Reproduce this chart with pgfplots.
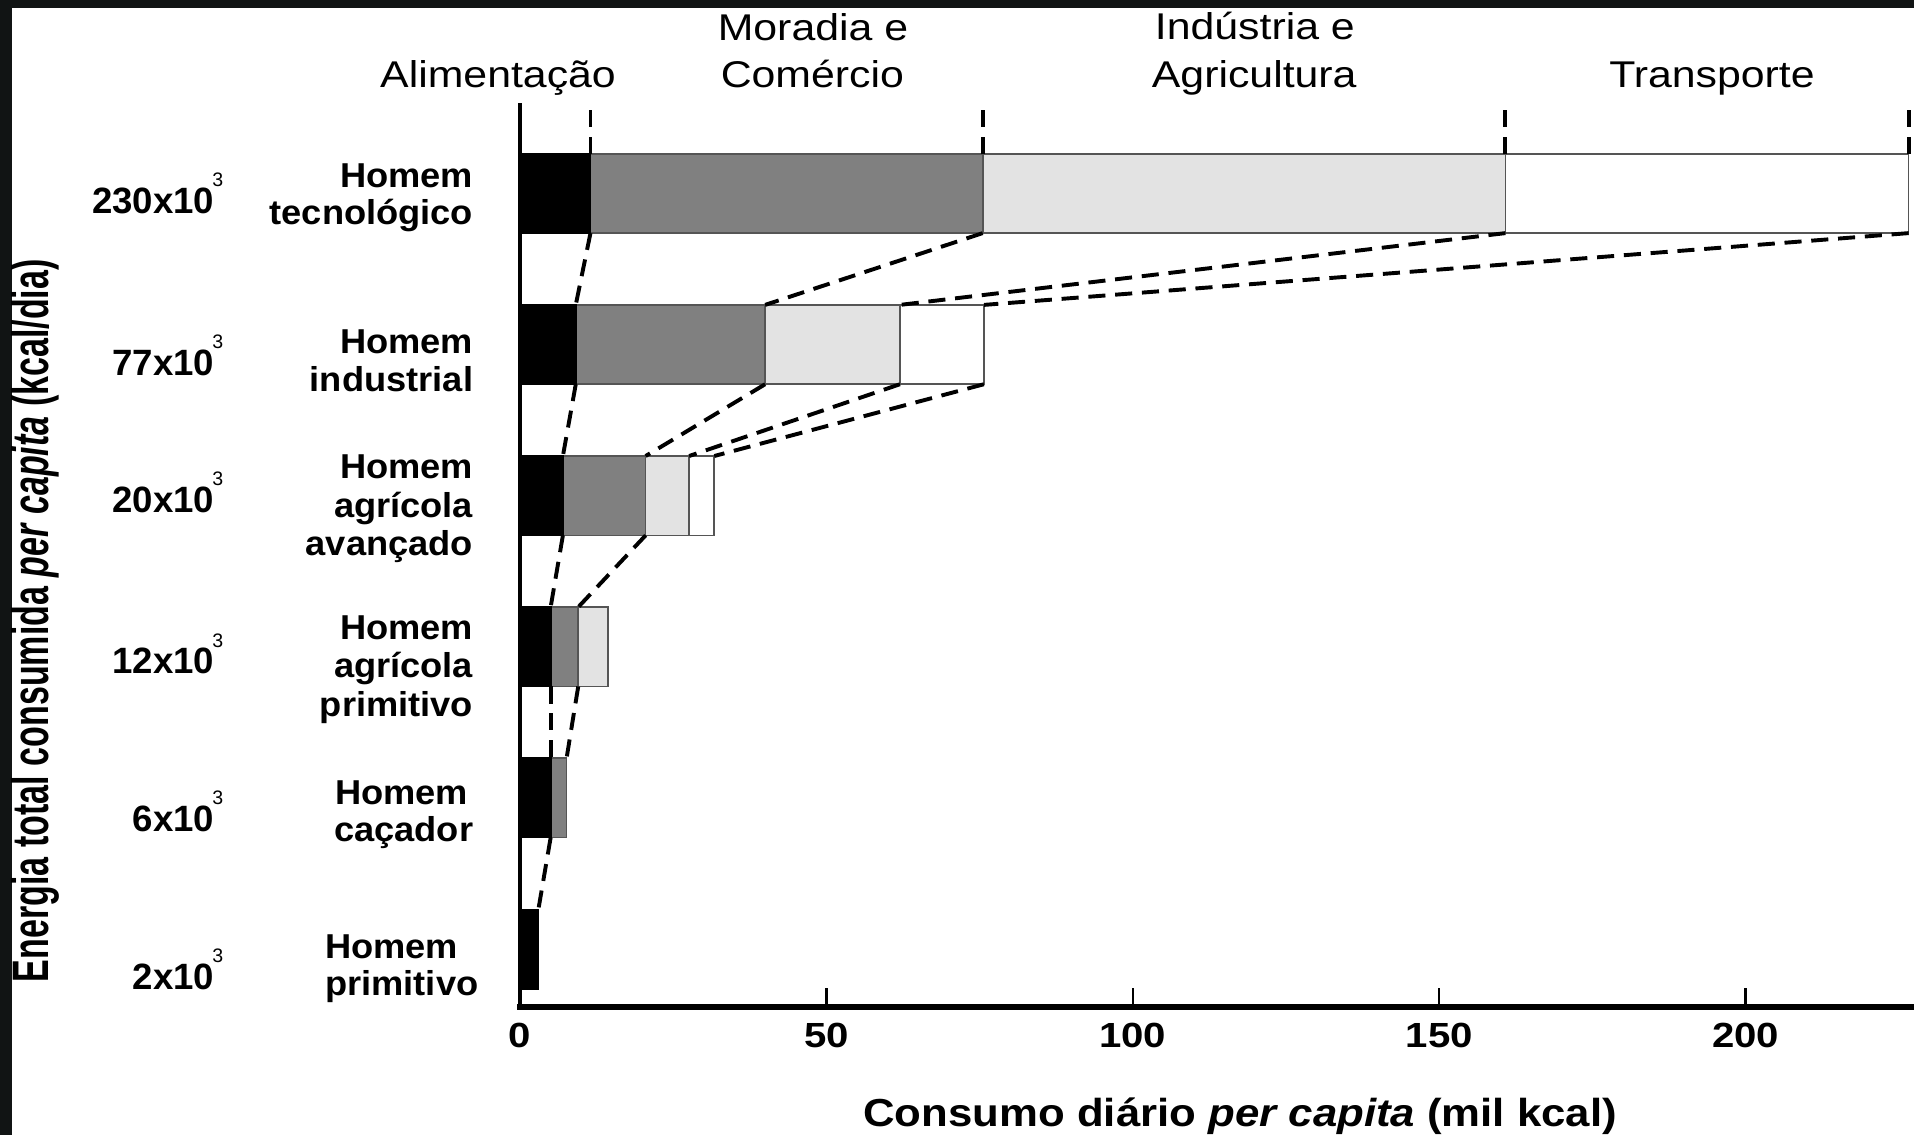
\documentclass[border=0pt]{standalone}
\usepackage{fontspec}
\setmainfont{Liberation Sans}
\usepackage{pgfplots}
\pgfplotsset{compat=1.18}
\newfontfamily\hdrfont[FakeStretch=1.15]{Liberation Sans}
\newfontfamily\catfont[FakeStretch=1.05]{Liberation Sans}
\newfontfamily\tickfont[FakeStretch=1.15]{Liberation Sans}
\newfontfamily\xlabfont[FakeStretch=1.12]{Liberation Sans}
\newfontfamily\ylabfont[FakeStretch=0.664]{Liberation Sans}
\definecolor{darkbar}{HTML}{808080}
\definecolor{lightbar}{HTML}{E3E3E3}
\definecolor{edge}{HTML}{555555}
\definecolor{frame}{HTML}{111414}
\begin{document}
\begin{tikzpicture}[x=1pt,y=1pt]
\useasboundingbox (0,0) rectangle (784,465);
\fill[white] (0,0) rectangle (784,465);
\fill[frame] (0,0) rectangle (4.9,465);
\fill[frame] (0,461.75) rectangle (784,465);
\begin{axis}[
  at={(213pt,52.5pt)}, anchor=south west,
  scale only axis, width=569.8pt, height=369.5pt,
  xmin=0, xmax=227, ymin=-0.3837, ymax=5.5856,
  clip=false,
  axis x line=bottom, axis y line=left,
  x axis line style={-, line width=2.5pt, line cap=rect},
  y axis line style={-, line width=2pt, line cap=rect},
  ytick=\empty,
  xtick={0,50,100,150,200},
  tick align=inside,
  major tick length=8pt,
  xtick style={black, line width=1pt},
  /pgf/number format/assume math mode=true,
  xticklabel style={font=\tickfont\bfseries\fontsize{14.3}{16}\selectfont, yshift=-3.2pt},
  mybar/.style={xbar, bar width=32.5pt, bar shift=0pt, line width=0.7pt},
  conn/.style={black, line width=1.6pt, dash pattern=on 7pt off 4pt},
]
% cumulative segment ends (Alimentacao | Moradia | Industria | Transporte)
\addplot[mybar, fill=white, draw=edge] coordinates {(31.7,3) (75.7,4) (226.6,5)};
\addplot[mybar, fill=lightbar, draw=edge] coordinates {(14.4,2) (27.6,3) (62.0,4) (160.8,5)};
\addplot[mybar, fill=darkbar, draw=edge] coordinates {(7.6,1) (9.5,2) (20.5,3) (40.0,4) (75.5,5)};
\addplot[mybar, fill=black, draw=black] coordinates {(3.0,0) (5.0,1) (5.0,2) (7.0,3) (9.1,4) (11.5,5)};
% connectors
\addplot[conn] coordinates {(11.5,5.2625) (11.5,5.6)};
\addplot[conn] coordinates {(75.5,5.2625) (75.5,5.6)};
\addplot[conn] coordinates {(160.8,5.2625) (160.8,5.6)};
\addplot[conn] coordinates {(226.6,5.2625) (226.6,5.6)};
\addplot[conn] coordinates {(11.5,4.7375) (9.1,4.2625)};
\addplot[conn] coordinates {(75.5,4.7375) (40.0,4.2625)};
\addplot[conn] coordinates {(160.8,4.7375) (62.0,4.2625)};
\addplot[conn] coordinates {(226.6,4.7375) (75.7,4.2625)};
\addplot[conn] coordinates {(9.1,3.7375) (7.0,3.2625)};
\addplot[conn] coordinates {(40.0,3.7375) (20.5,3.2625)};
\addplot[conn] coordinates {(62.0,3.7375) (27.6,3.2625)};
\addplot[conn] coordinates {(75.7,3.7375) (31.7,3.2625)};
\addplot[conn] coordinates {(7.0,2.7375) (5.0,2.2625)};
\addplot[conn] coordinates {(20.5,2.7375) (9.5,2.2625)};
\addplot[conn] coordinates {(5.0,1.7375) (5.0,1.2625)};
\addplot[conn] coordinates {(9.5,1.7375) (7.6,1.2625)};
\addplot[conn] coordinates {(5.0,0.7375) (3.0,0.2625)};
\end{axis}
% header labels
\begin{scope}[every node/.style={inner sep=0pt, anchor=base, font=\hdrfont\fontsize{15.25}{18}\selectfont}]
\node at (204,429.1) {Alimentação};
\node at (333,448.35) {Moradia e};
\node at (332.75,429.1) {Comércio};
\node at (514,449) {Indústria e};
\node at (513.75,429.1) {Agricultura};
\node at (701.25,429.1) {Transporte};
\end{scope}
% category labels
\begin{scope}[every node/.style={inner sep=0pt, anchor=base east, font=\catfont\bfseries\fontsize{14.15}{15.5}\selectfont}]
\node at (194,388.3) {Homem};
\node at (194,373.1) {tecnológico};
\node at (194,320.15) {Homem};
\node at (194,304.75) {industrial};
\node at (194,269.1) {Homem};
\node at (194,253) {agrícola};
\node at (194,237.35) {avançado};
\node at (194,202.85) {Homem};
\node at (194,187.4) {agrícola};
\node at (194,171.7) {primitivo};
\node at (192,135.65) {Homem};
\node at (194,120.2) {caçador};
\node[anchor=base west] at (133,72.3) {Homem};
\node[anchor=base west] at (133,57.4) {primitivo};
\end{scope}
% total energy labels
\begin{scope}[every node/.style={inner sep=0pt, anchor=base east, font=\bfseries\fontsize{15}{16}\selectfont}]
\node at (88,377.7) {230x10};
\node at (88,311.2) {77x10};
\node at (88,255.25) {20x10};
\node at (88,189) {12x10};
\node at (88,124.6) {6x10};
\node at (88,59.65) {2x10};
\end{scope}
\begin{scope}[every node/.style={inner sep=0pt, anchor=base west, font=\fontsize{8}{9}\selectfont}]
\node at (86.75,388.6) {3};
\node at (86.75,322.1) {3};
\node at (86.75,266.15) {3};
\node at (86.75,199.9) {3};
\node at (86.75,135.5) {3};
\node at (86.75,70.55) {3};
\end{scope}
% axis titles
\node[rotate=90, inner sep=0pt, font=\ylabfont\bfseries\fontsize{21}{23}\selectfont] at (14.5,210.75) {Energia total consumida \textit{per capita} (kcal/dia)};
\node[anchor=base, inner sep=0pt, font=\xlabfont\bfseries\fontsize{16}{18}\selectfont] at (508,3.55) {Consumo diário \textit{per capita} (mil kcal)};
\end{tikzpicture}
\end{document}
